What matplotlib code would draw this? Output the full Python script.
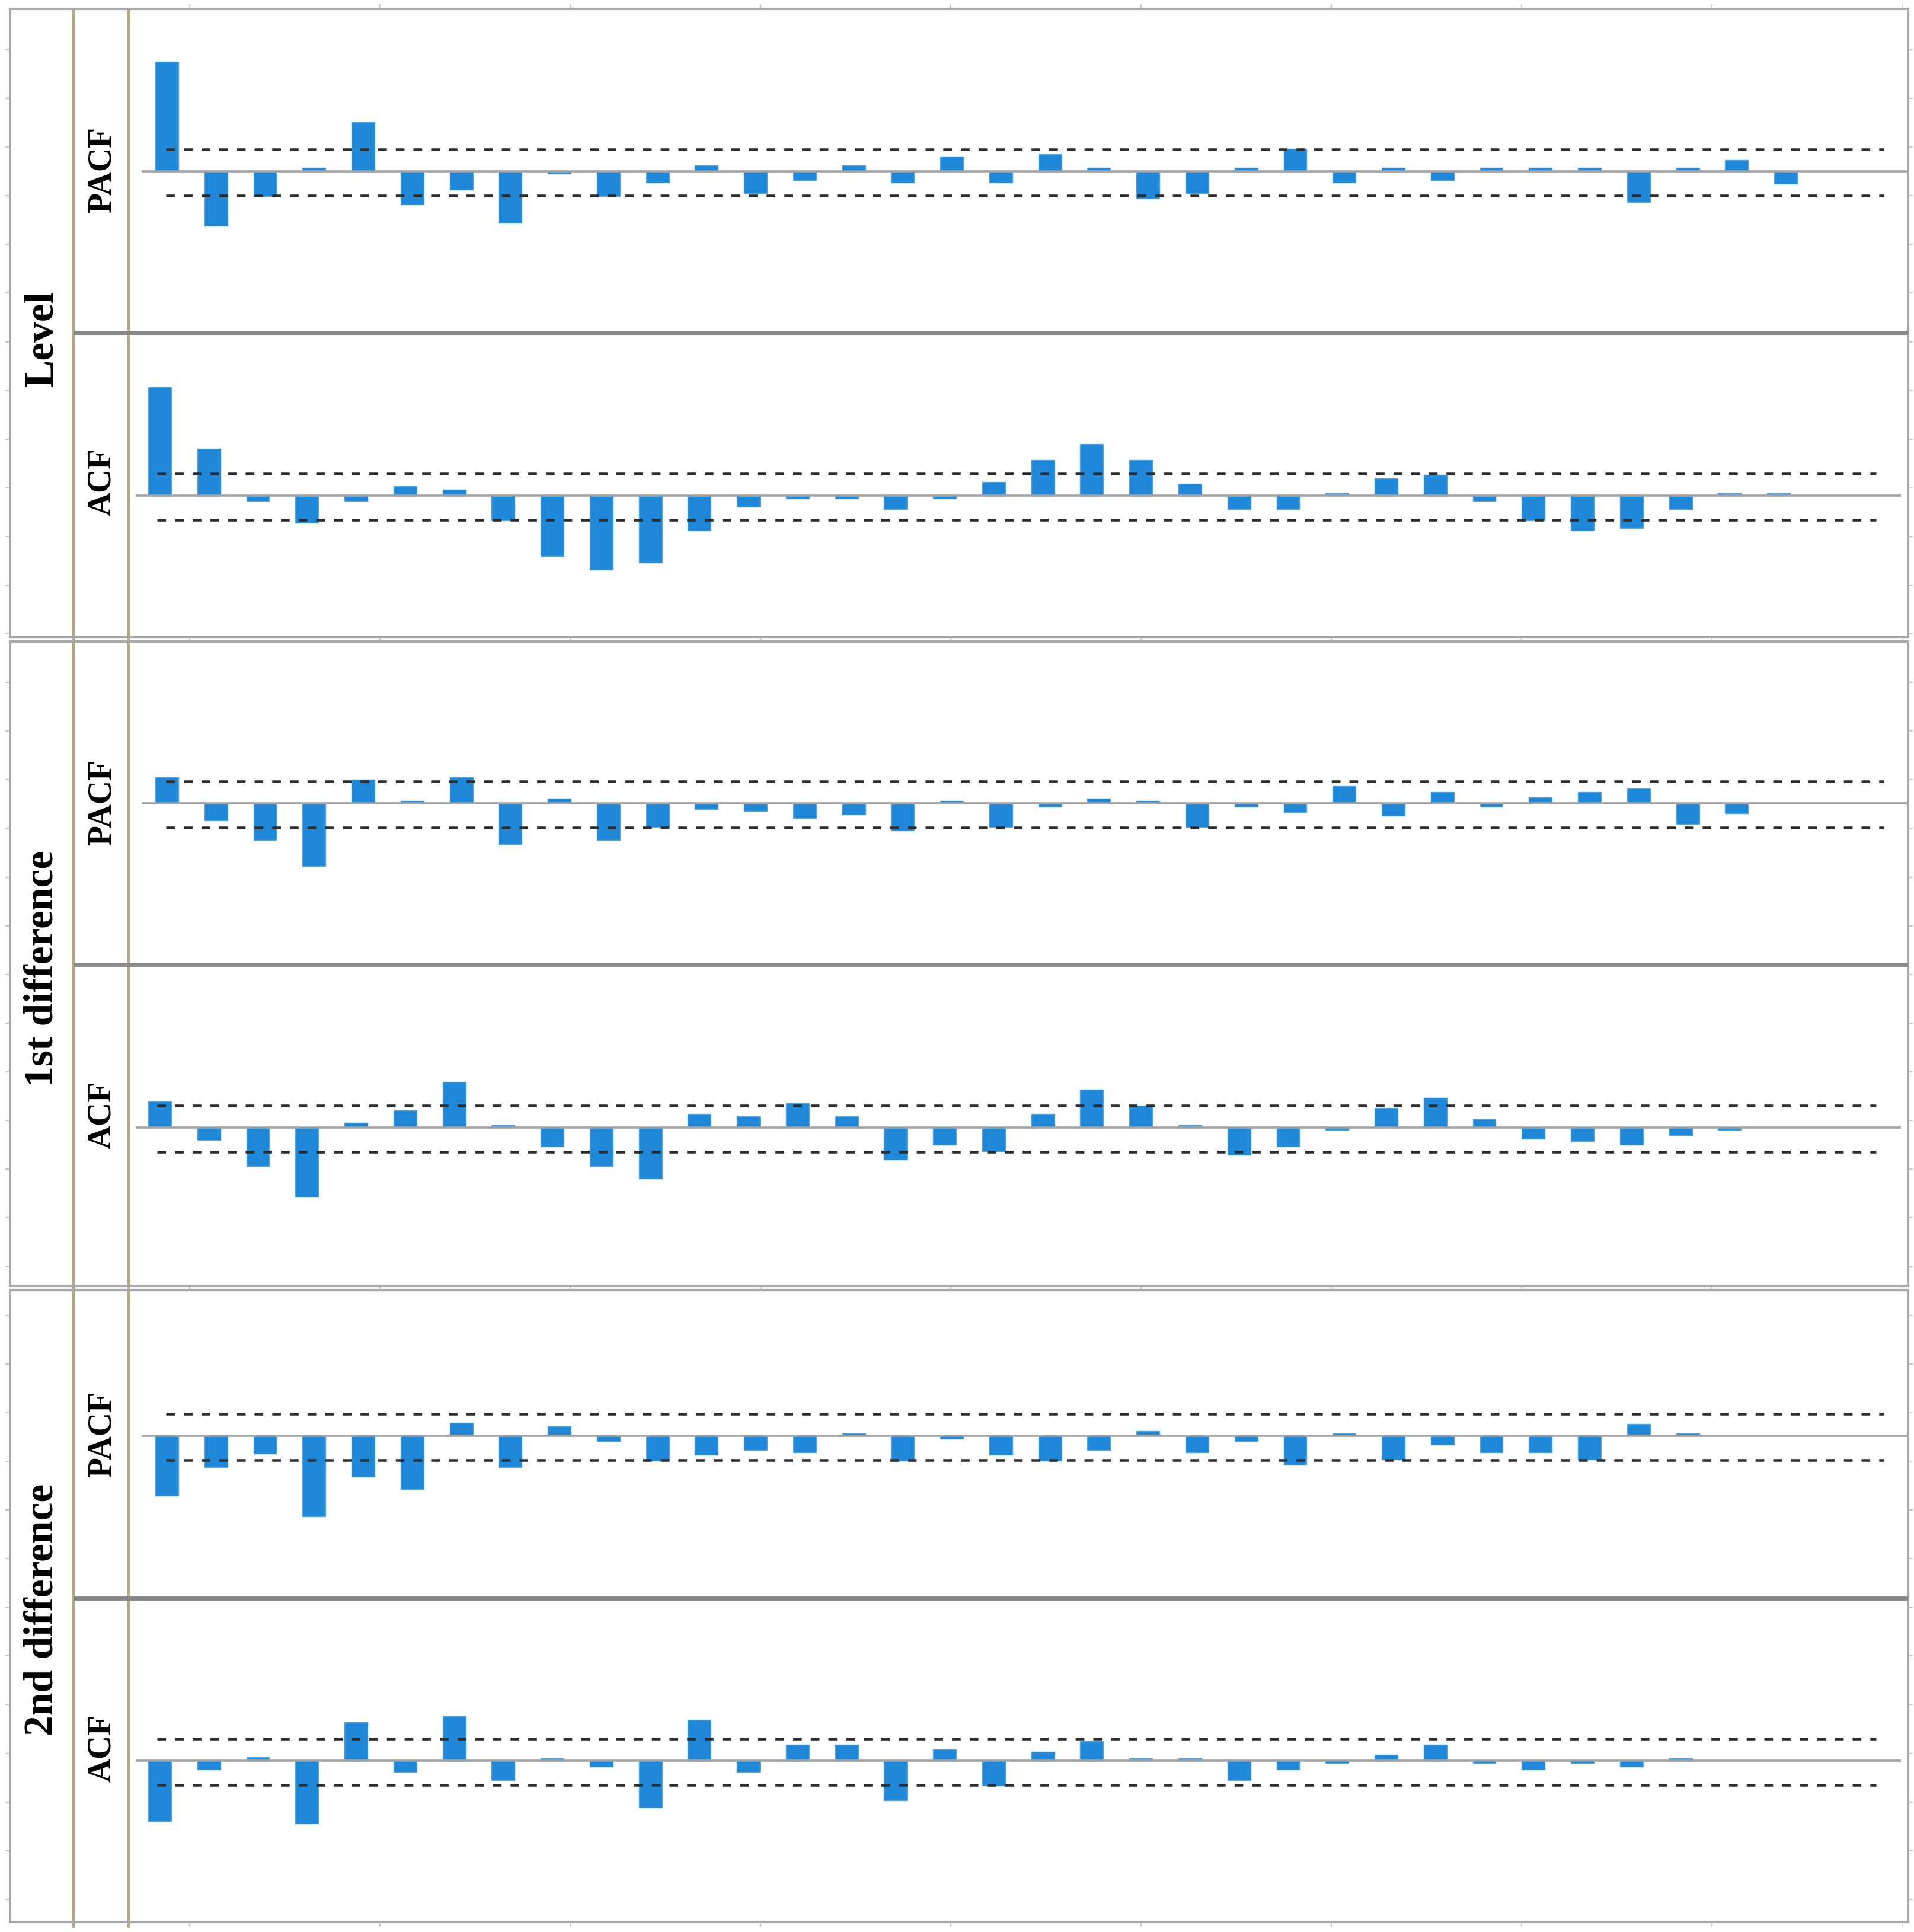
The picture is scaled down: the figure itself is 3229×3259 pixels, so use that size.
import matplotlib
matplotlib.use("Agg")
import matplotlib.pyplot as plt
import numpy as np

# ---------------- data ----------------
group_labels = ["Level", "1st difference", "2nd difference"]
panel_labels = ["PACF", "ACF", "PACF", "ACF", "PACF", "ACF"]

level_pacf = [0.96, -0.48, -0.22, 0.03, 0.43, -0.29, -0.16, -0.45, -0.02, -0.22,
              -0.10, 0.05, -0.19, -0.08, 0.05, -0.10, 0.13, -0.10, 0.15, 0.03,
              -0.24, -0.19, 0.03, 0.20, -0.10, 0.03, -0.08, 0.03, 0.03, 0.03,
              -0.27, 0.03, 0.10, -0.11]
level_acf = [0.95, 0.41, -0.05, -0.24, -0.05, 0.08, 0.05, -0.22, -0.53, -0.65,
             -0.59, -0.31, -0.10, -0.03, -0.03, -0.12, -0.03, 0.12, 0.31, 0.45,
             0.31, 0.10, -0.12, -0.12, 0.02, 0.15, 0.18, -0.05, -0.22, -0.31,
             -0.29, -0.12, 0.02, 0.02]
d1_pacf = [0.23, -0.15, -0.32, -0.55, 0.21, 0.02, 0.23, -0.36, 0.04, -0.32,
           -0.21, -0.05, -0.07, -0.13, -0.10, -0.24, 0.02, -0.21, -0.03, 0.04,
           0.02, -0.21, -0.03, -0.08, 0.15, -0.11, 0.10, -0.03, 0.05, 0.10,
           0.13, -0.18, -0.09]
d1_acf = [0.23, -0.11, -0.34, -0.61, 0.04, 0.15, 0.40, 0.02, -0.17, -0.34,
          -0.45, 0.12, 0.10, 0.21, 0.10, -0.28, -0.15, -0.21, 0.12, 0.33,
          0.19, 0.02, -0.24, -0.17, -0.02, 0.17, 0.26, 0.07, -0.10, -0.12,
          -0.15, -0.07, -0.02]
d2_pacf = [-0.53, -0.28, -0.16, -0.71, -0.36, -0.47, 0.11, -0.28, 0.08, -0.05,
           -0.22, -0.17, -0.13, -0.15, 0.02, -0.22, -0.03, -0.17, -0.22, -0.13,
           0.04, -0.15, -0.05, -0.26, 0.02, -0.21, -0.08, -0.15, -0.15, -0.21,
           0.10, 0.02]
d2_acf = [-0.53, -0.08, 0.03, -0.55, 0.34, -0.10, 0.39, -0.17, 0.02, -0.05,
          -0.41, 0.36, -0.10, 0.14, 0.14, -0.35, 0.10, -0.22, 0.08, 0.17,
          0.02, 0.02, -0.17, -0.08, -0.02, 0.05, 0.14, -0.02, -0.08, -0.02,
          -0.05, 0.02]
conf_upper = 0.19
conf_lower = -0.215

series = [level_pacf, level_acf, d1_pacf, d1_acf, d2_pacf, d2_acf]

# ---------------- layout (pixels) ----------------
W, H = 3229, 3259
fig = plt.figure(figsize=(W / 100, H / 100), dpi=100)
fig.patch.set_facecolor("white")

BLUE = "#1F88D9"
BORDER = "#A9A9A9"
SEP = "#878787"
TAN = "#B3A77B"
ZERO = "#A3A3A3"
DASH = "#2E2E2E"

x_left, x_tan1, x_tan2, x_right = 17, 124, 217, 3219
group_boxes = [(15, 1075), (1082, 2169), (2176, 3242)]
sub_sep = [561, 1627, 2696]
panel_boxes = [(15, 561), (561, 1075), (1082, 1627), (1627, 2169),
               (2176, 2696), (2696, 3242)]
zero_px = [289, 835.6, 1355, 1901.8, 2421.5, 2970]
S = 192.3  # px per unit of correlation
step_px = 82.76
first_px = {"PACF": 281.5, "ACF": 269.5}
zero_span = {"PACF": (239, 3219), "ACF": (229, 3207)}
dash_span = {"PACF": (280, 3178), "ACF": (265, 3165)}
bar_w = 0.47

bg = fig.add_axes([0, 0, 1, 1], zorder=0)
bg.set_xlim(0, W)
bg.set_ylim(H, 0)
bg.axis("off")

# faint tick marks outside the boxes
tick_x = [320 + 321 * i for i in range(10)]
for (yt, yb) in group_boxes:
    for tx in tick_x:
        bg.plot([tx, tx], [yt - 7, yt], color="#C8C8C8", lw=1.5)
        bg.plot([tx, tx], [yb, yb + 7], color="#C8C8C8", lw=1.5)
for i in range(40):
    ty = 84 + 82.1 * i
    if ty < 3242:
        bg.plot([x_left - 7, x_left], [ty, ty], color="#C8C8C8", lw=1.5)
        bg.plot([x_right, x_right + 7], [ty, ty], color="#C8C8C8", lw=1.5)

# tan vertical dividers
for tx in (x_tan1, x_tan2):
    bg.plot([tx, tx], [15, 3252], color=TAN, lw=3.0, solid_capstyle="butt")

# group boxes
for (yt, yb) in group_boxes:
    bg.plot([x_left, x_right, x_right, x_left, x_left],
            [yt, yt, yb, yb, yt], color=BORDER, lw=3.0, solid_joinstyle="miter")

# sub-panel separators
for sy in sub_sep:
    bg.plot([x_tan1, x_right], [sy, sy], color=SEP, lw=5.0, solid_capstyle="butt")

# group labels
group_text_y = [571, 1634, 2715]
for lab, ty in zip(group_labels, group_text_y):
    bg.text(72, ty, lab, rotation=90, ha="center", va="center",
            fontsize=50, fontweight="bold", family="Liberation Serif", color="black")

panel_text_y = [286, 813, 1353, 1881, 2419, 2949]

for i, (vals, lab) in enumerate(zip(series, panel_labels)):
    yt, yb = panel_boxes[i]
    z = zero_px[i]
    ax = fig.add_axes([x_tan2 / W, 1 - yb / H, (x_right - x_tan2) / W, (yb - yt) / H],
                      zorder=1)
    ax.patch.set_alpha(0)
    for sp in ax.spines.values():
        sp.set_visible(False)
    ax.set_xticks([])
    ax.set_yticks([])
    fp = first_px[lab]
    to_lag = lambda px: 1 + (px - fp) / step_px
    ax.set_xlim(to_lag(x_tan2), to_lag(x_right))
    ax.set_ylim(-(yb - z) / S, (z - yt) / S)
    lags = np.arange(1, len(vals) + 1)
    ax.bar(lags, vals, width=bar_w, color=BLUE, edgecolor="#4FA3E3", linewidth=1.0,
           zorder=2)
    z0, z1 = zero_span[lab]
    ax.plot([to_lag(z0), to_lag(z1)], [0, 0], color=ZERO, lw=2.6, zorder=3,
            solid_capstyle="butt")
    d0, d1 = dash_span[lab]
    for c in (conf_upper, conf_lower):
        ax.plot([to_lag(d0), to_lag(d1)], [c, c], color=DASH, lw=3.3,
                linestyle=(0, (3.2, 3.3)), zorder=4)
    bg.text(172, panel_text_y[i], lab, rotation=90, ha="center", va="center",
            fontsize=40, fontweight="bold", family="Liberation Serif", color="black")

fig.savefig("out.png", dpi=100, facecolor="white")
